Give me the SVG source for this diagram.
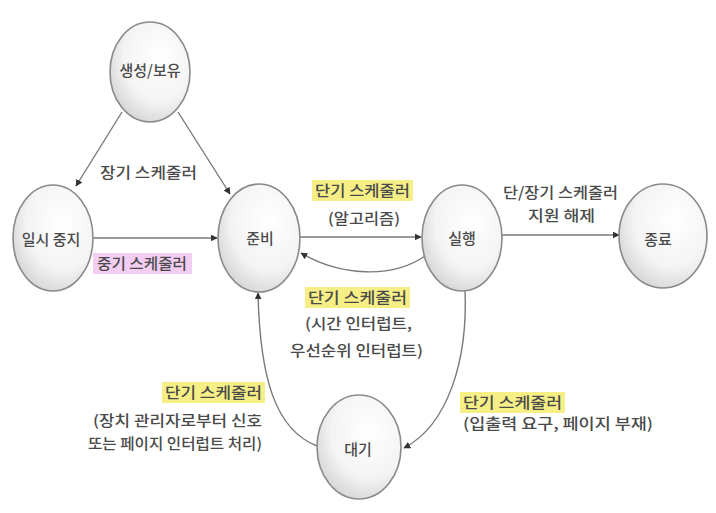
<svg xmlns="http://www.w3.org/2000/svg" width="716" height="513" viewBox="0 0 716 513">
<defs>
<radialGradient id="g" cx="0.62" cy="0.35" r="0.75">
<stop offset="0" stop-color="#ffffff"/>
<stop offset="0.6" stop-color="#f4f4f4"/>
<stop offset="1" stop-color="#d0d0d0"/>
</radialGradient>
<marker id="a" viewBox="0 0 10 10" refX="9" refY="5" markerWidth="7" markerHeight="7" orient="auto" markerUnits="userSpaceOnUse">
<path d="M0,0 L10,5 L0,10 z" fill="#333"/>
</marker>
</defs>
<style>
.n{fill:url(#g);stroke:#8a8a8a;stroke-width:1.6}
.t{font-family:"Noto Sans CJK KR","Noto Sans",sans-serif;font-size:15px;font-weight:500;fill:#4a4a4a}
.c{fill:none;stroke:#7a7a7a;stroke-width:1.4;marker-end:url(#a)}
.y{fill:#f6ef86}
.p{fill:#f3cdf2}
</style>
<rect width="716" height="513" fill="#ffffff"/>
<g id="connectors">
<path class="c" d="M122,112 L76,186"/>
<path class="c" d="M178,112 L230,194"/>
<path class="c" d="M93,238 L217,238"/>
<path class="c" d="M300,237 L421,237"/>
<path class="c" d="M425,256 C392,279 340,276 301,253"/>
<path class="c" d="M502,235 L619,235"/>
<path class="c" d="M465,290 C468,360 448,425 404,448"/>
<path class="c" d="M317,446 C276,430 260,380 258,293"/>
</g>
<g id="labels">
<rect class="p" x="93" y="253" width="99" height="21"/>
<rect class="y" x="312" y="180" width="101" height="21"/>
<rect class="y" x="305" y="287" width="105" height="21"/>
<rect class="y" x="162" y="382" width="103" height="21"/>
<rect class="y" x="460" y="392" width="105" height="21"/>
<text class="t" x="100" y="177.5" textLength="97" lengthAdjust="spacingAndGlyphs">장기 스케줄러</text>
<text class="t" x="97" y="268.5" textLength="90" lengthAdjust="spacingAndGlyphs">중기 스케줄러</text>
<text class="t" x="315" y="195.5" textLength="95" lengthAdjust="spacingAndGlyphs">단기 스케줄러</text>
<text class="t" x="328" y="223.5" textLength="72" lengthAdjust="spacingAndGlyphs">(알고리즘)</text>
<text class="t" x="503" y="197.5" textLength="115" lengthAdjust="spacingAndGlyphs">단/장기 스케줄러</text>
<text class="t" x="528" y="221" textLength="67" lengthAdjust="spacingAndGlyphs">지원 해제</text>
<text class="t" x="308" y="302.5" textLength="99" lengthAdjust="spacingAndGlyphs">단기 스케줄러</text>
<text class="t" x="305" y="328.5" textLength="107" lengthAdjust="spacingAndGlyphs">(시간 인터럽트,</text>
<text class="t" x="290" y="355.5" textLength="133" lengthAdjust="spacingAndGlyphs">우선순위 인터럽트)</text>
<text class="t" x="165" y="397.5" textLength="97" lengthAdjust="spacingAndGlyphs">단기 스케줄러</text>
<text class="t" x="93" y="426" textLength="169" lengthAdjust="spacingAndGlyphs">(장치 관리자로부터 신호</text>
<text class="t" x="88" y="449" textLength="174" lengthAdjust="spacingAndGlyphs">또는 페이지 인터럽트 처리)</text>
<text class="t" x="463" y="407.5" textLength="99" lengthAdjust="spacingAndGlyphs">단기 스케줄러</text>
<text class="t" x="463" y="428.5" textLength="190" lengthAdjust="spacingAndGlyphs">(입출력 요구, 페이지 부재)</text>
</g>
<g id="node-create">
<ellipse class="n" cx="150" cy="72" rx="40" ry="50"/>
<text class="t" x="150" y="75.5" text-anchor="middle">생성/보유</text>
</g>
<g id="node-suspend">
<ellipse class="n" cx="53" cy="238" rx="40" ry="53"/>
<text class="t" x="51" y="245" text-anchor="middle">일시 중지</text>
</g>
<g id="node-ready">
<ellipse class="n" cx="259" cy="238" rx="41" ry="54"/>
<text class="t" x="260" y="243.5" text-anchor="middle">준비</text>
</g>
<g id="node-run">
<ellipse class="n" cx="462" cy="238" rx="40" ry="53"/>
<text class="t" x="462" y="243.5" text-anchor="middle">실행</text>
</g>
<g id="node-exit">
<ellipse class="n" cx="663" cy="236" rx="44" ry="52"/>
<text class="t" x="658" y="245" text-anchor="middle">종료</text>
</g>
<g id="node-wait">
<ellipse class="n" cx="359" cy="447" rx="42" ry="52"/>
<text class="t" x="358" y="455" text-anchor="middle">대기</text>
</g>
</svg>
